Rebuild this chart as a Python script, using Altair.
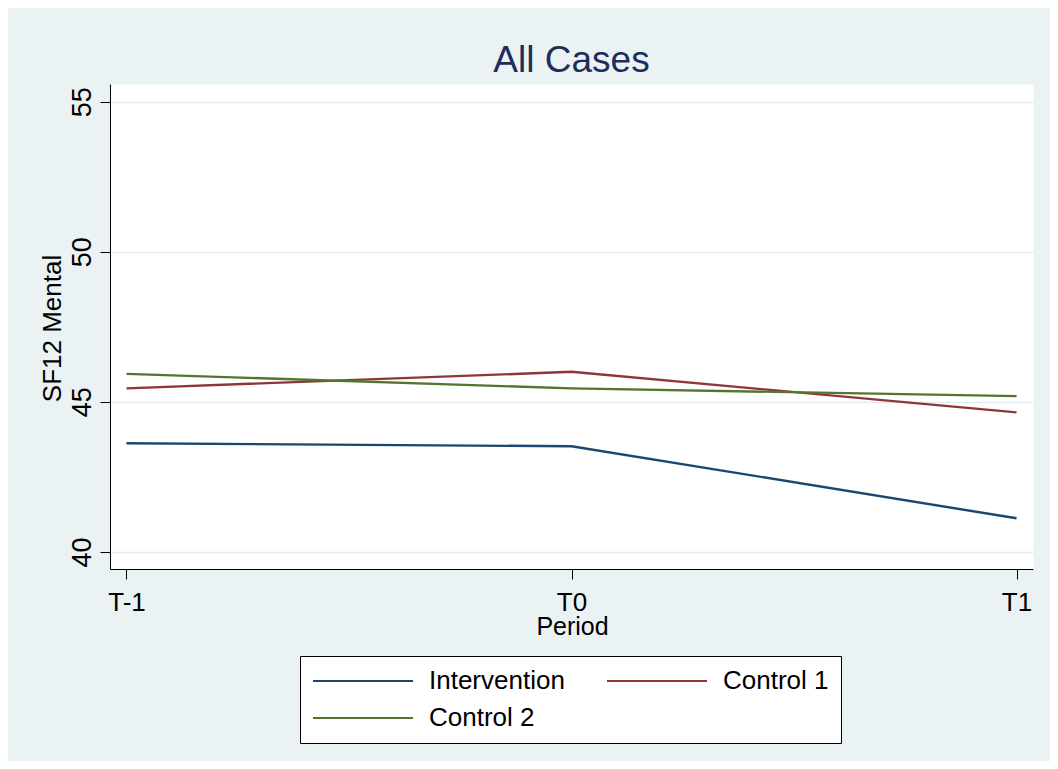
import altair as alt
import pandas as pd

periods = ["T-1", "T0", "T1"]
series_names = ["Intervention", "Control 1", "Control 2"]
intervention = [43.62, 43.52, 41.12]
control1 = [45.45, 46.00, 44.65]
control2 = [45.93, 45.45, 45.19]
y_ticks = [40, 45, 50, 55]
colors = ["#1a476f", "#90353b", "#55752f"]

rows = []
for name, vals in zip(series_names, [intervention, control1, control2]):
    for p, v in zip(periods, vals):
        rows.append({"period": p, "value": v, "series": name})
df = pd.DataFrame(rows)

FONT = "Liberation Sans"

chart = alt.Chart(df).mark_line(strokeWidth=2.4).encode(
    x=alt.X(
        "period:N",
        sort=periods,
        scale=alt.Scale(type="point", padding=0.037),
        axis=alt.Axis(
            title="Period",
            labelAngle=0,
            labelFontSize=26,
            labelBaseline="alphabetic",
            labelPadding=31,
            tickSize=10,
            titleFontSize=25,
            titleFontWeight="normal",
            titleBaseline="alphabetic",
            titleX=462,
            titleY=65,
            grid=False,
        ),
    ),
    y=alt.Y(
        "value:Q",
        scale=alt.Scale(domain=[39.43, 55.59], nice=False, zero=False),
        axis=alt.Axis(
            title="SF12 Mental",
            values=y_ticks,
            labelAngle=270,
            labelAlign="center",
            labelBaseline="alphabetic",
            labelFontSize=27,
            labelPadding=10,
            tickSize=10,
            titleFontSize=26,
            titleFontWeight="normal",
            titleAngle=270,
            titleAlign="center",
            titleBaseline="alphabetic",
            titleX=-50,
            titleY=244,
            grid=True,
            gridColor="#e3ecef",
            gridWidth=1.5,
        ),
    ),
    color=alt.Color(
        "series:N",
        scale=alt.Scale(domain=series_names, range=colors),
        legend=alt.Legend(
            title=None,
            orient="none",
            direction="horizontal",
            legendX=190,
            legendY=572,
            columns=2,
            symbolType="M-1,0L7.3333,0",
            symbolSize=576,
            symbolStrokeWidth=2,
            labelFontSize=26,
            labelOffset=91,
            labelColor="black",
            columnPadding=38,
            rowPadding=11,
            padding=12,
            fillColor="white",
            strokeColor="black",
            labelLimit=300,
        ),
    ),
).properties(
    width=923,
    height=485,
    autosize=alt.AutoSizeParams(type="none"),
    padding={"left": 102, "top": 76, "right": 17, "bottom": 192},
    background="#eaf2f3",
    title=alt.TitleParams(
        "All Cases",
        fontSize=37,
        fontWeight="normal",
        color="#1e2d5c",
        anchor="middle",
        baseline="alphabetic",
        offset=-25,
        font=FONT,
    ),
).configure(font=FONT).configure_view(
    fill="white", stroke="transparent"
).configure_axis(
    domainColor="black",
    tickColor="black",
    labelColor="black",
    titleColor="black",
    labelFont=FONT,
    titleFont=FONT,
)

chart.save("out.html", embed_options={"renderer": "svg", "actions": False})
